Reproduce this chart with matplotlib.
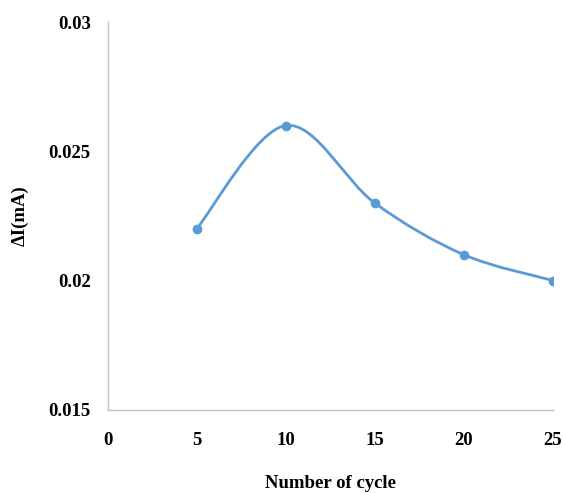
import numpy as np
import matplotlib.pyplot as plt
from matplotlib.path import Path
from matplotlib.patches import PathPatch

cycles = [5, 10, 15, 20, 25]
delta_i = [0.022, 0.026, 0.023, 0.021, 0.020]
x_ticks = [0, 5, 10, 15, 20, 25]
y_ticks = [0.015, 0.02, 0.025, 0.03]
y_tick_labels = ['0.015', '0.02', '0.025', '0.03']

plt.rcParams['font.family'] = ['Liberation Serif', 'DejaVu Serif']
plt.rcParams['font.weight'] = 'bold'

color = '#5B9BD5'

fig = plt.figure(figsize=(5.63, 4.93), dpi=100)
ax = fig.add_axes([0.191, 0.169, 0.791, 0.786])

# Excel-style smoothed line: Catmull-Rom as cubic Bezier segments
pts = np.column_stack([cycles, delta_i]).astype(float)
verts = [tuple(pts[0])]
codes = [Path.MOVETO]
n = len(pts)
for i in range(n - 1):
    p0 = pts[i - 1] if i > 0 else pts[i]
    p1 = pts[i]
    p2 = pts[i + 1]
    p3 = pts[i + 2] if i + 2 < n else pts[i + 1]
    c1 = p1 + (p2 - p0) / 6.0
    c2 = p2 - (p3 - p1) / 6.0
    verts += [tuple(c1), tuple(c2), tuple(p2)]
    codes += [Path.CURVE4] * 3
ax.add_patch(PathPatch(Path(verts, codes), facecolor='none', edgecolor=color, lw=2.0, zorder=2))
ax.plot(cycles, delta_i, 'o', color=color, ms=6, zorder=3)

ax.set_xlim(0, 25)
ax.set_ylim(0.015, 0.03)
ax.set_xticks(x_ticks)
ax.set_yticks(y_ticks)
ax.set_yticklabels(y_tick_labels)
ax.tick_params(length=0, labelsize=13.5, pad=12)
ax.tick_params(axis='x', pad=16)

for s in ['top', 'right']:
    ax.spines[s].set_visible(False)
for s in ['left', 'bottom']:
    ax.spines[s].set_color('#BFBFBF')
    ax.spines[s].set_linewidth(1.0)

ax.set_xlabel('Number of cycle', fontsize=13.5, fontweight='bold', labelpad=19)
ax.set_ylabel('ΔI(mA)', fontsize=13.5, fontweight='bold', labelpad=14)

fig.savefig('out.png', dpi=100)
